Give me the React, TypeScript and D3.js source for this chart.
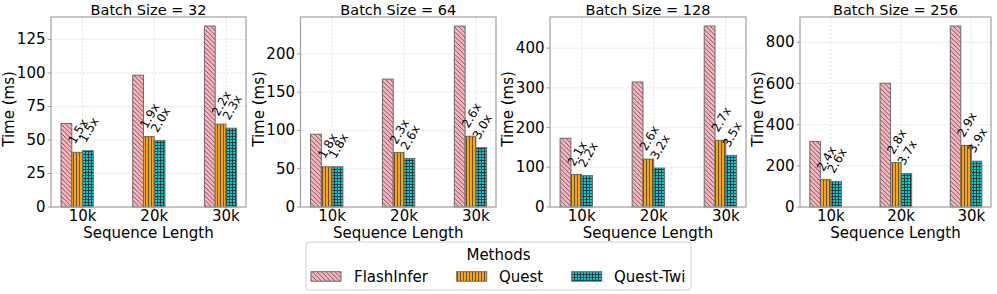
import React, { useEffect, useRef } from 'react';
import * as d3 from 'd3';

// data (time in ms)
const seqLabels = ['10k', '20k', '30k'];
const batchSizes = [32, 64, 128, 256];
const methods = ['FlashInfer', 'Quest', 'Quest-Twi'];

const flashInfer = [
  [62.3, 98.3, 135],
  [95, 167, 236.3],
  [173, 314.8, 455.7],
  [318.7, 601.6, 879.7],
];
const quest = [
  [40.8, 52.5, 61.8],
  [52.5, 71.3, 92.3],
  [82, 120.7, 168],
  [133.3, 216, 299],
];
const questTwi = [
  [42, 49.5, 58.8],
  [52.5, 63.5, 77.5],
  [79, 98, 130],
  [123.6, 162.6, 222.8],
];
const questSpeedup = [
  ['1.5x', '1.9x', '2.2x'],
  ['1.8x', '2.3x', '2.6x'],
  ['2.1x', '2.6x', '2.7x'],
  ['2.4x', '2.8x', '2.9x'],
];
const twiSpeedup = [
  ['1.5x', '2.0x', '2.3x'],
  ['1.8x', '2.6x', '3.0x'],
  ['2.2x', '3.2x', '3.5x'],
  ['2.6x', '3.7x', '3.9x'],
];
const yTicks = [
  [0, 25, 50, 75, 100, 125],
  [0, 50, 100, 150, 200],
  [0, 100, 200, 300, 400],
  [0, 200, 400, 600, 800],
];

const W = 997;
const H = 294;
const FONT = '"DejaVu Sans", sans-serif';

export default function App() {
  const ref = useRef<SVGSVGElement>(null);
  useEffect(() => {
    document.body.style.margin = '0';
    if (ref.current) drawChart(ref.current);
  }, []);
  return <svg ref={ref} width={W} height={H} style={{ display: 'block', background: '#fff' }} />;
}

const drawChart = (el: SVGSVGElement) => {
  const svg = d3.select(el);
  svg.selectAll('*').remove();
  svg.attr('font-family', FONT);

  // hatch patterns, like matplotlib's '\\\\', '|||' and '++'
  const defs = svg.append('defs');
  const pinkPat = defs
    .append('pattern')
    .attr('id', 'hatch-pink')
    .attr('patternUnits', 'userSpaceOnUse')
    .attr('width', 4.5)
    .attr('height', 4.5);
  pinkPat.append('rect').attr('width', 4.5).attr('height', 4.5).attr('fill', '#ffb6c1');
  pinkPat
    .append('path')
    .attr('d', 'M-1,-1L5.5,5.5M-1,3.5L1,5.5M3.5,-1L5.5,1')
    .attr('stroke', '#3a3a3a')
    .attr('stroke-width', 0.8);

  const orangePat = defs
    .append('pattern')
    .attr('id', 'hatch-orange')
    .attr('patternUnits', 'userSpaceOnUse')
    .attr('width', 3)
    .attr('height', 3);
  orangePat.append('rect').attr('width', 3).attr('height', 3).attr('fill', '#ffa500');
  orangePat
    .append('path')
    .attr('d', 'M1.5,0V3')
    .attr('stroke', '#3a3a3a')
    .attr('stroke-width', 0.8);

  const cyanPat = defs
    .append('pattern')
    .attr('id', 'hatch-cyan')
    .attr('patternUnits', 'userSpaceOnUse')
    .attr('width', 3)
    .attr('height', 3);
  cyanPat.append('rect').attr('width', 3).attr('height', 3).attr('fill', '#00ced1');
  cyanPat
    .append('path')
    .attr('d', 'M1.5,0V3M0,1.5H3')
    .attr('stroke', '#222')
    .attr('stroke-width', 0.8);

  const fills = ['url(#hatch-pink)', 'url(#hatch-orange)', 'url(#hatch-cyan)'];

  // panel geometry
  const lefts = [51, 300.5, 550, 800];
  const rights = [246, 496, 746, 991];
  const top = 17;
  const bottom = 207;
  const barW = 0.15;
  const labelSize = 12;

  batchSizes.forEach((bs, p) => {
    const left = lefts[p];
    const right = rights[p];
    const series = [flashInfer[p], quest[p], questTwi[p]];
    const ymax = d3.max(flashInfer[p]) * 1.05;

    const x = d3.scaleLinear().domain([-0.44, 2.28]).range([left, right]);
    const y = d3.scaleLinear().domain([0, ymax]).range([bottom, top]);

    const g = svg.append('g');

    // grid
    g.selectAll('.vgrid')
      .data(seqLabels)
      .enter()
      .append('line')
      .attr('x1', (d, i) => x(i))
      .attr('x2', (d, i) => x(i))
      .attr('y1', top)
      .attr('y2', bottom)
      .attr('stroke', '#dedede')
      .attr('stroke-width', 0.8)
      .attr('stroke-dasharray', '2.5,1.5');
    g.selectAll('.hgrid')
      .data(yTicks[p])
      .enter()
      .append('line')
      .attr('x1', left)
      .attr('x2', right)
      .attr('y1', d => y(d))
      .attr('y2', d => y(d))
      .attr('stroke', '#dedede')
      .attr('stroke-width', 0.8)
      .attr('stroke-dasharray', '2.5,1.5');

    // bars: pink [x-2w, x-w], orange [x-w, x], cyan [x, x+w]
    series.forEach((vals, s) => {
      g.selectAll('.bar' + s)
        .data(vals)
        .enter()
        .append('rect')
        .attr('x', (d, i) => x(i + (s - 2) * barW))
        .attr('y', d => y(d))
        .attr('width', x(barW) - x(0))
        .attr('height', d => bottom - y(d))
        .attr('fill', fills[s])
        .attr('stroke', '#6a6a6a')
        .attr('stroke-width', 1);
    });

    // speedup labels above quest / quest-twi bars
    const labelSets = [questSpeedup[p], twiSpeedup[p]];
    labelSets.forEach((labels, k) => {
      const s = k + 1;
      labels.forEach((txt, i) => {
        const cx = x(i + (s - 2) * barW + barW / 2) + 1;
        const t = g
          .append('text')
          .text(txt)
          .attr('font-size', labelSize)
          .attr('text-anchor', 'middle')
          .attr('dominant-baseline', 'central')
          .attr('fill', '#000');
        const L = (t.node() as SVGTextElement).getComputedTextLength();
        const hb = L * Math.sin(Math.PI / 3) + labelSize * 1.16 * Math.cos(Math.PI / 3);
        const cy = y(series[s][i]) - 6 - hb / 2;
        t.attr('transform', `translate(${cx},${cy}) rotate(-60)`);
      });
    });

    // spines
    g.append('rect')
      .attr('x', left)
      .attr('y', top)
      .attr('width', right - left)
      .attr('height', bottom - top)
      .attr('fill', 'none')
      .attr('stroke', '#a0a0a0')
      .attr('stroke-width', 1.2);

    // y ticks
    yTicks[p].forEach(v => {
      g.append('line')
        .attr('x1', left - 3.5)
        .attr('x2', left)
        .attr('y1', y(v))
        .attr('y2', y(v))
        .attr('stroke', '#a0a0a0');
      g.append('text')
        .attr('x', left - 5.5)
        .attr('y', y(v))
        .attr('text-anchor', 'end')
        .attr('dominant-baseline', 'central')
        .attr('font-size', 15)
        .text(v);
    });

    // x ticks
    seqLabels.forEach((lab, i) => {
      g.append('line')
        .attr('x1', x(i))
        .attr('x2', x(i))
        .attr('y1', bottom)
        .attr('y2', bottom + 3.5)
        .attr('stroke', '#a0a0a0');
      g.append('text')
        .attr('x', x(i))
        .attr('y', 221)
        .attr('text-anchor', 'middle')
        .attr('font-size', 15)
        .text(lab);
    });

    // titles and axis labels
    g.append('text')
      .attr('x', (left + right) / 2)
      .attr('y', 15)
      .attr('text-anchor', 'middle')
      .attr('font-size', 14.5)
      .text(`Batch Size = ${bs}`);
    g.append('text')
      .attr('x', (left + right) / 2)
      .attr('y', 238)
      .attr('text-anchor', 'middle')
      .attr('font-size', 15)
      .text('Sequence Length');
    g.append('text')
      .attr('transform', `translate(${left - 37},${(top + bottom) / 2 - 3}) rotate(-90)`)
      .attr('text-anchor', 'middle')
      .attr('font-size', 15)
      .text('Time (ms)');
  });

  // legend
  const lg = svg.append('g');
  lg.append('rect')
    .attr('x', 306)
    .attr('y', 242)
    .attr('width', 385)
    .attr('height', 48)
    .attr('rx', 3)
    .attr('fill', '#fff')
    .attr('stroke', '#d0d0d0')
    .attr('stroke-width', 1);
  lg.append('text')
    .attr('x', 498.5)
    .attr('y', 260)
    .attr('text-anchor', 'middle')
    .attr('font-size', 15)
    .text('Methods');
  const patchX = [311, 456.7, 571.7];
  const textX = [354, 499, 614];
  methods.forEach((m, i) => {
    lg.append('rect')
      .attr('x', patchX[i])
      .attr('y', 271.7)
      .attr('width', 30)
      .attr('height', 9.5)
      .attr('fill', fills[i])
      .attr('stroke', '#6a6a6a')
      .attr('stroke-width', 1);
    lg.append('text')
      .attr('x', textX[i])
      .attr('y', 282)
      .attr('font-size', 15)
      .text(m);
  });
};
